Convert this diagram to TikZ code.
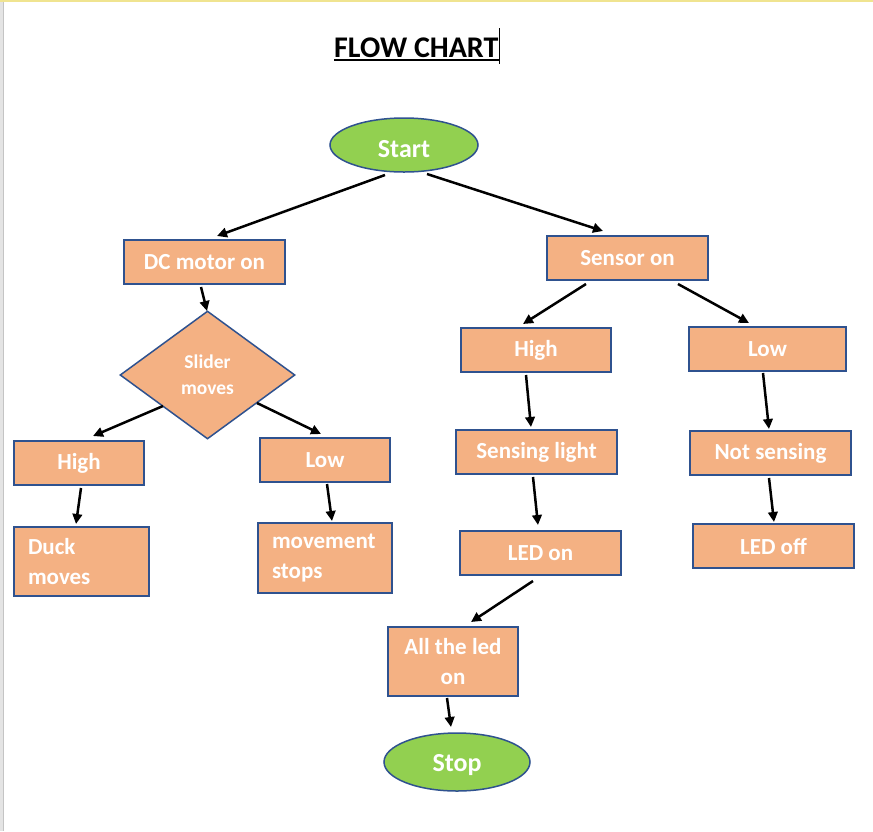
\documentclass[tikz,border=0pt]{standalone}
\usepackage{fontspec}
\setmainfont{Carlito}
\usetikzlibrary{arrows.meta,shapes.geometric}
\definecolor{boxfill}{HTML}{F4B183}
\definecolor{boxline}{HTML}{2F528F}
\definecolor{ovalfill}{HTML}{92D050}
\definecolor{topline}{HTML}{F0E490}
\definecolor{sidegrey}{HTML}{E4E4E4}
\definecolor{sideline}{HTML}{C4C4C4}
\begin{document}
\begin{tikzpicture}[x=1pt,y=-1pt,
  stepbox/.style={rectangle,draw=boxline,fill=boxfill,line width=2pt,text=white,
    font={\bfseries\fontsize{23}{30}\selectfont},inner sep=0pt,align=center},
  twoline/.style={stepbox,align=left,inner xsep=14pt},
  decision/.style={diamond,draw=boxline,fill=boxfill,line width=1.5pt,text=white,
    font={\bfseries\fontsize{19.5}{26}\selectfont},inner sep=0pt,align=center,
    minimum width=175pt,minimum height=128pt},
  terminal/.style={ellipse,draw=boxline,fill=ovalfill,line width=1.5pt,inner sep=0pt},
  ovaltext/.style={text=white,font={\bfseries\fontsize{26}{30}\selectfont},inner sep=0pt},
  arr/.style={line width=2.5pt,-{Triangle[length=10pt,width=9.5pt]}}]
\useasboundingbox (0,0) rectangle (873,831);
\fill[white] (0,0) rectangle (873,831);
\fill[topline] (0,0) rectangle (873,1.6);
\fill[sidegrey] (0,1.6) rectangle (3,831);
\draw[sideline,line width=0.8pt] (3.4,1.6) -- (3.4,831);

% title
\node[anchor=base west,inner sep=0pt,font={\bfseries\fontsize{30}{36}\selectfont}] (title) at (334,57) {FLOW CHART};
\draw[line width=1.8pt] ([yshift=-3pt]title.base west) -- ([yshift=-3pt]title.base east);
\coordinate (curtop) at (499,28);
\coordinate (curbot) at (499,64);
\draw[line width=1pt] (curtop) -- (curbot);

% terminals
\node[terminal,minimum width=148pt,minimum height=54pt] (start) at (404,145) {};
\node[ovaltext] (starttext) at ([yshift=-4pt]start.center) {Start};
\node[terminal,minimum width=146pt,minimum height=58pt] (stop) at (457,762) {};
\node[ovaltext] (stoptext) at ([yshift=-3pt]stop.center) {Stop};

% boxes
\node[stepbox,minimum width=161pt,minimum height=44pt] (dc) at (204.5,262) {DC motor on};
\node[stepbox,minimum width=161pt,minimum height=44pt] (sensor) at (627.5,258) {Sensor on};
\node[stepbox,minimum width=150pt,minimum height=44pt] (highR) at (536,350) {High};
\node[stepbox,minimum width=157pt,minimum height=44pt] (lowR) at (767.5,349) {Low};
\node[stepbox,minimum width=161pt,minimum height=44pt] (sensing) at (536.5,452) {Sensing light};
\node[stepbox,minimum width=161pt,minimum height=44pt] (notsensing) at (770.5,453) {Not sensing};
\node[stepbox,minimum width=161pt,minimum height=44pt] (ledon) at (540.5,553) {LED on};
\node[stepbox,minimum width=161pt,minimum height=44pt] (ledoff) at (773.5,546) {LED off};
\node[stepbox,minimum width=130pt,minimum height=69pt] (allon) at (453,661.5) {All the led\\on};
\node[stepbox,minimum width=130pt,minimum height=44pt] (highL) at (79,463) {High};
\node[stepbox,minimum width=130pt,minimum height=44pt] (lowL) at (325,460) {Low};
\node[twoline,text width=107pt,minimum height=69pt] (duck) at (81.5,561.5) {Duck\\moves};
\node[twoline,text width=106pt,minimum height=70pt] (movement) at (325,558) {movement\\stops};

% decision
\node[decision] (slider) at (207.5,375) {Slider\\moves};

% connector end points
\coordinate (a1s) at (385,175);  \coordinate (a1e) at (217,236);
\coordinate (a2s) at (427,174);  \coordinate (a2e) at (603,231);
\coordinate (a3s) at (201,287);  \coordinate (a3e) at (207,311);
\coordinate (a4s) at (163,406);  \coordinate (a4e) at (93,436);
\coordinate (a5s) at (257,403);  \coordinate (a5e) at (321,434);
\coordinate (a6s) at (81,488);   \coordinate (a6e) at (76,524);
\coordinate (a7s) at (327,484);  \coordinate (a7e) at (332,521);
\coordinate (a8s) at (586,284);  \coordinate (a8e) at (523,324);
\coordinate (a9s) at (678,284);  \coordinate (a9e) at (749,323);
\coordinate (a10s) at (526,375); \coordinate (a10e) at (531,427);
\coordinate (a11s) at (763,373); \coordinate (a11e) at (769,429);
\coordinate (a12s) at (533,477); \coordinate (a12e) at (538,525);
\coordinate (a13s) at (769,478); \coordinate (a13e) at (774,522);
\coordinate (a14s) at (533,581); \coordinate (a14e) at (471,622);
\coordinate (a15s) at (447,698); \coordinate (a15e) at (451,727);

\foreach \i in {1,...,15}{\draw[arr] (a\i s) -- (a\i e);}
\end{tikzpicture}
\end{document}
